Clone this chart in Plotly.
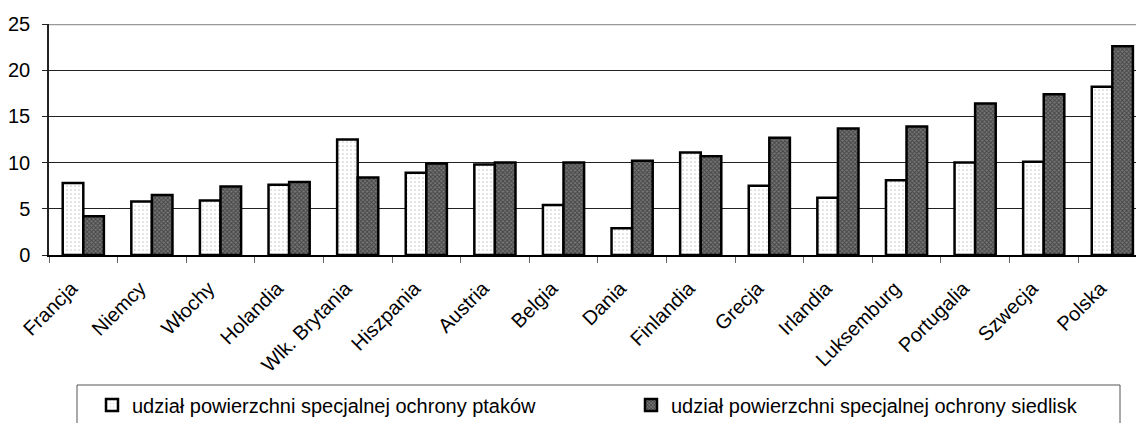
import plotly.graph_objects as go

# Countries on the category axis
countries = ["Francja", "Niemcy", "Włochy", "Holandia", "Wlk. Brytania", "Hiszpania",
             "Austria", "Belgia", "Dania", "Finlandia", "Grecja", "Irlandia",
             "Luksemburg", "Portugalia", "Szwecja", "Polska"]

# Share of special bird protection areas (%)
birds = [7.8, 5.8, 5.9, 7.6, 12.5, 8.9, 9.8, 5.4, 2.9, 11.1, 7.5, 6.2, 8.1, 10.0, 10.1, 18.2]
# Share of special habitat protection areas (%)
habitats = [4.2, 6.5, 7.4, 7.9, 8.4, 9.9, 10.0, 10.0, 10.2, 10.7, 12.7, 13.7, 13.9, 16.4, 17.4, 22.6]

name_birds = "udział powierzchni specjalnej ochrony ptaków"
name_habitats = "udział powierzchni specjalnej ochrony siedlisk"

y_ticks = [0, 5, 10, 15, 20, 25]

FONT = "Liberation Sans, Arial, sans-serif"
W, H = 1136, 423
ML, MT, MB = 49, 24, 168
PW = W - ML          # plot width in px
PH = H - MT - MB     # plot height in px

fig = go.Figure()
fig.add_trace(go.Bar(
    x=countries, y=birds, name=name_birds, legend="legend",
    marker=dict(color="white", line=dict(color="black", width=2.5),
                pattern=dict(shape=".", fgcolor="#9a9a9a", bgcolor="white",
                             size=4, solidity=0.15)),
))
fig.add_trace(go.Bar(
    x=countries, y=habitats, name=name_habitats, legend="legend2",
    marker=dict(color="#444", line=dict(color="black", width=2.5),
                pattern=dict(shape="x", fgcolor="#111", bgcolor="#777",
                             size=3, solidity=0.55)),
))

legend_style = dict(xref="paper", yref="container", xanchor="left", yanchor="middle",
                    y=1 - 405 / H, font=dict(size=20, family=FONT),
                    bgcolor="rgba(0,0,0,0)", borderwidth=0)

fig.update_layout(
    width=W, height=H,
    margin=dict(l=ML, r=0, t=MT, b=MB),
    paper_bgcolor="white", plot_bgcolor="white",
    barmode="group", bargap=0.4, bargroupgap=0,
    font=dict(family=FONT, color="black"),
    showlegend=True,
    legend=dict(x=(92 - ML) / PW, **legend_style),
    legend2=dict(x=(631 - ML) / PW, **legend_style),
)

# Rotated country labels, padded at the end so they sit a little left of each group
fig.update_xaxes(
    range=[-0.5, 15.345], tickangle=-45, tickfont=dict(size=20),
    tickmode="array", tickvals=countries,
    ticktext=[c + "\u00a0\u00a0\u00a0" for c in countries],
    showline=True, linecolor="black", linewidth=2,
    ticks="outside", tickson="boundaries", ticklen=6, tickcolor="#666", tickwidth=1,
    ticklabelstandoff=0, automargin=False,
    showgrid=False,
)
fig.update_yaxes(
    range=[0, 25], tickvals=y_ticks, tickfont=dict(size=20),
    showline=True, linecolor="#222", linewidth=1.5,
    ticks="outside", ticklen=5, tickcolor="#222", ticklabelstandoff=8,
    automargin=False,
    showgrid=True, gridcolor="#222", gridwidth=1, zeroline=False,
)

# Gray top border of the plotting area
fig.add_shape(type="line", xref="paper", yref="y", x0=0, x1=1, y0=25, y1=25,
              line=dict(color="#999", width=2.5))
# Legend frame (continues below the visible page)
fig.add_shape(type="rect", xref="paper", yref="paper",
              x0=(77 - ML) / PW, x1=(1120 - ML) / PW, y0=-0.9, y1=-(385 - MT - PH) / PH,
              line=dict(color="#555", width=1), fillcolor="rgba(0,0,0,0)")

fig.write_html("out.html")
